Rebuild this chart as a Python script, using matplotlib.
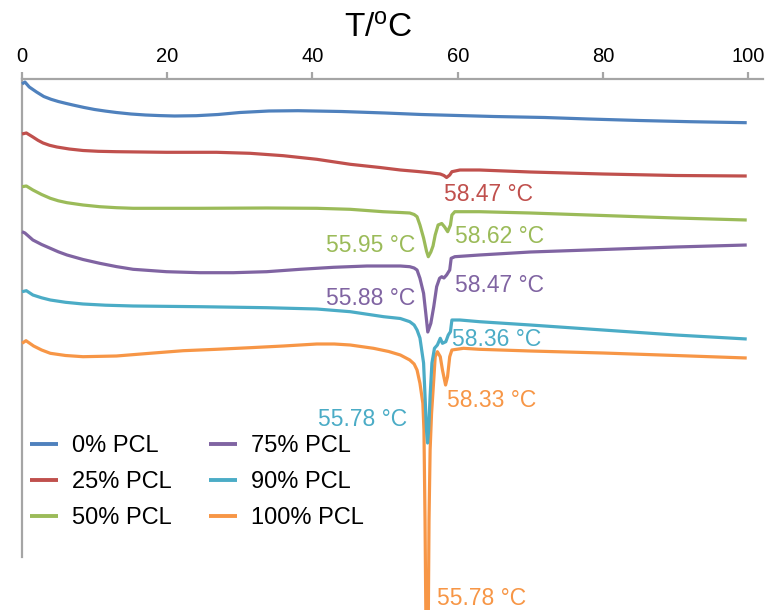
import matplotlib
matplotlib.use("Agg")
import matplotlib.pyplot as plt

plt.rcParams['font.family'] = ['Liberation Sans', 'DejaVu Sans']
plt.rcParams['mathtext.fontset'] = 'custom'
plt.rcParams['mathtext.rm'] = 'Liberation Sans'
plt.rcParams['mathtext.it'] = 'Liberation Sans:italic'

# ---- data (temperature in degC, heat flow in arbitrary offset units, downward = endotherm) ----
labels = ["0% PCL", "25% PCL", "50% PCL", "75% PCL", "90% PCL", "100% PCL"]
colors = ["#4F81BD", "#C0504D", "#9BBB59", "#8064A2", "#4BACC6", "#F79646"]

T_0 = [0, 0.4, 1, 2, 3, 4, 5, 6, 7, 8.5, 10, 11.5, 13, 15, 17, 19, 21, 24, 27, 30, 34, 38, 44, 50, 55, 60,
       65, 72, 78, 85, 92, 99.8]
y_0 = [84, 82, 87, 92, 96.5, 99.3, 101.5, 103.3, 105, 107.4, 109.5, 111.1, 112.5, 114, 115, 115.6, 116,
       115.7, 114.5, 112.5, 111, 110.7, 111.5, 113, 114.5, 115.5, 116.5, 117.5, 119, 120.5, 121.7, 122.7]

T_25 = [0, 0.6, 1.5, 2.2, 2.9, 3.8, 4.8, 6.5, 8.4, 10.5, 13, 19.9, 26.8, 31.4, 36, 40.6, 45.2, 49.3, 52.1,
        54.5, 56.2, 57.6, 58.1, 58.47, 58.9, 59.2, 60.3, 63, 70, 80, 90, 99.8]
y_25 = [134, 133, 137, 140.3, 143, 145.3, 147, 149, 150.5, 151.3, 151.7, 152.3, 152.3, 153.3, 155.7, 159.3,
        164.3, 167.5, 170, 171.5, 172.7, 174, 175.5, 177.5, 175, 171.7, 170, 170, 172, 174, 175.5, 176]

T_50 = [0, 0.6, 1.5, 2.7, 3.9, 5, 6.2, 8.4, 10.7, 13, 15.3, 24.5, 33.7, 40.6, 45.2, 49.7, 52.1, 53.4, 54.0,
        54.4, 54.8, 55.3, 55.7, 55.95, 56.3, 56.6, 56.9, 57.3, 57.8, 58.2, 58.62, 59.0, 59.2, 59.6, 63, 70,
        80, 90, 99.8]
y_50 = [186.7, 186, 190, 194.5, 198.3, 200.8, 202.7, 205, 206.7, 207.7, 208.3, 208.3, 208, 208.3, 209.3,
        211.7, 212.5, 213, 214.5, 216.7, 225, 238, 251, 256.7, 252, 246, 235, 225, 223.5, 227, 231.7, 225,
        215, 211.7, 211.7, 213, 215.5, 218, 220]

T_75 = [0, 0.4, 1.5, 2.7, 3.9, 5, 6.2, 8.4, 10.7, 13, 15.3, 19.9, 24.5, 29.1, 33.7, 38.3, 42.9, 47.5, 52.1,
        53.4, 54.0, 54.4, 54.8, 55.3, 55.6, 55.88, 56.3, 56.7, 57.1, 57.5, 57.8, 58.1, 58.47, 58.9, 59.1,
        59.6, 63, 70, 80, 90, 99.8]
y_75 = [231.7, 233, 240, 244.5, 248.3, 251.8, 255, 259.5, 263.3, 266.6, 269.3, 271.7, 272.7, 272.7, 271.7,
        269.3, 267.3, 266, 266, 266.7, 268, 270, 278.3, 293.3, 313, 332, 323.3, 306.7, 286.7, 278.3, 276.7,
        278, 275, 270, 258.3, 256.7, 255, 252, 249.5, 247, 245]

T_90 = [0, 0.6, 1.5, 2.7, 3.9, 6, 8.4, 11.5, 15.3, 24.5, 33.7, 40.6, 45.2, 49.8, 52.1, 53.4, 54.0, 54.4,
        54.8, 55.3, 55.5, 55.7, 55.85, 56.0, 56.2, 56.45, 56.8, 57.2, 57.6, 57.9, 58.36, 58.7, 59.0, 59.2,
        60.3, 63, 70, 80, 90, 99.8]
y_90 = [291.7, 290.7, 295, 297.8, 300, 302.3, 304, 305.2, 306, 306.7, 307.7, 309, 311.7, 316.7, 318.5,
        321.7, 325, 330, 338, 363, 396, 430, 443, 430, 396, 363, 348.3, 345, 338.3, 343.3, 341.7, 335,
        331.7, 320, 320, 321.7, 325, 330, 335, 339]

T_100 = [0, 0.55, 1.6, 2.7, 3.9, 6, 8.4, 13, 17.6, 22.2, 26.8, 31.4, 36, 40.6, 43, 45.2, 48.4, 50.5, 52.1,
         53.4, 54.0, 54.4, 54.8, 55.2, 55.35, 55.5, 55.62, 55.78, 55.95, 56.05, 56.2, 56.4, 56.7, 56.9, 57.2,
         57.6, 57.9, 58.33, 58.6, 58.9, 59.2, 60.8, 63, 70, 80, 90, 99.8]
y_100 = [343.3, 340.7, 346, 350, 353.3, 355.5, 356.7, 356, 353.3, 350.7, 349.3, 347.7, 346, 344, 344, 345,
         348.3, 351.5, 355, 360, 364, 370, 383.3, 403.3, 430, 520, 620, 690, 620, 520, 450, 413.3, 380, 356.7,
         351.7, 356.7, 370, 385, 376.7, 356.7, 350, 348.3, 349.3, 351, 353, 355.5, 358]

series_T = [T_0, T_25, T_50, T_75, T_90, T_100]
series_y = [y_0, y_25, y_50, y_75, y_90, y_100]

# peak annotations: (text, x, y, series index)
ann_text = ["58.47 °C", "55.95 °C", "58.62 °C", "55.88 °C", "58.47 °C",
            "58.36 °C", "55.78 °C", "58.33 °C", "55.78 °C"]
ann_x = [58.13, 41.87, 59.64, 41.87, 59.64, 59.23, 40.77, 58.54, 57.16]
ann_y = [200.7, 252, 243, 305, 292, 346, 426, 407, 605]
ann_series = [1, 2, 2, 3, 3, 4, 4, 5, 5]

xticks = [0, 20, 40, 60, 80, 100]

# ---- figure ----
W, H = 773, 610
fig = plt.figure(figsize=(W / 100, H / 100), dpi=100)
ax = fig.add_axes([22 / W, 1 - 557 / H, (762.7 - 22) / W, (557 - 79) / H])

for i, (T, y) in enumerate(zip(series_T, series_y)):
    ax.plot(T, y, color=colors[i], lw=2.3, label=labels[i], clip_on=False,
            zorder=4 if i == 4 else 3, solid_capstyle='butt', solid_joinstyle='round')

ax.set_xlim(0, 102)
ax.set_ylim(557, 79)

spine_col = "#A5A5A5"
for s in ["right", "bottom"]:
    ax.spines[s].set_visible(False)
for s in ["top", "left"]:
    ax.spines[s].set_color(spine_col)
    ax.spines[s].set_linewidth(1.6)
ax.spines["left"].set_bounds(557, 79)

ax.xaxis.set_ticks_position("top")
ax.xaxis.set_label_position("top")
ax.set_xticks(xticks)
ax.set_xticklabels([str(t) for t in xticks])
ax.tick_params(axis="x", direction="out", length=5.2, width=1.6, color=spine_col,
               labelsize=14.5, pad=4.0, labelcolor="black")
ax.set_yticks([])

fig.text(378 / W, 1 - 29 / H, r"T/$^{\mathrm{o}}$C", fontsize=24, ha="center", va="center")

for t, x, y, si in zip(ann_text, ann_x, ann_y, ann_series):
    ax.text(x, y, t, color=colors[si], fontsize=16.5, ha="left", va="baseline", clip_on=False)

leg = ax.legend(ncol=2, loc="upper left", bbox_to_anchor=(30 / W, 1 - 435 / H),
                bbox_transform=fig.transFigure, frameon=False, fontsize=17,
                borderpad=0, borderaxespad=0, handlelength=1.2, handletextpad=0.6,
                columnspacing=1.55, labelspacing=0.6)
for line in leg.get_lines():
    line.set_linewidth(2.8)

fig.savefig("out.png", dpi=100)
